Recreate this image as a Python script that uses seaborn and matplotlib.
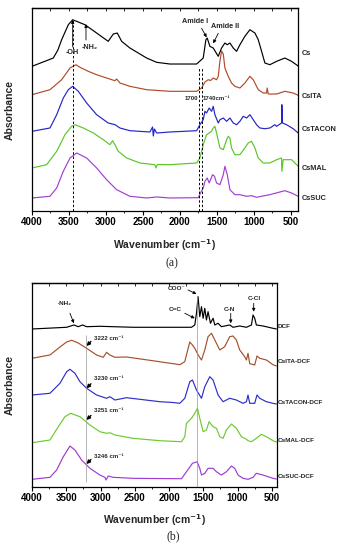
import matplotlib
matplotlib.use("Agg")
import matplotlib.pyplot as plt
import seaborn as sns
import pandas as pd
from matplotlib.ticker import MultipleLocator

# ---------------- panel (a): chitosan films (stacked, arbitrary units) ----------------
cs_wn = [4000, 3712, 3650, 3599, 3509, 3450, 3284, 3126, 2969, 2901, 2847, 2788, 2676, 2450,
         2315, 2135, 1774, 1685, 1649, 1631, 1595, 1550, 1482, 1437, 1392, 1360, 1324, 1279,
         1234, 1189, 1122, 1054, 986, 941, 896, 851, 784, 693, 581, 491, 401]
cs_abs = [144.7, 153, 161, 171.3, 186.3, 191.3, 186.3, 178, 169.7, 177, 178, 169.7, 163, 153,
          148.7, 147, 147, 153, 171.3, 173, 164.7, 163, 154.7, 163, 168, 166.3, 168, 163,
          159.7, 166.3, 174.7, 181.3, 178, 171.3, 159.7, 148, 146.3, 149.7, 153, 149.7, 145]

ita_wn = [4000, 3757, 3599, 3486, 3405, 3351, 3239, 3126, 2991, 2878, 2856, 2811, 2676, 2450,
          2135, 1774, 1707, 1662, 1617, 1586, 1550, 1505, 1482, 1459, 1437, 1414, 1392, 1347,
          1302, 1257, 1189, 1122, 1054, 1009, 941, 874, 829, 820, 806, 693, 581, 469, 401]
ita_abs = [116.3, 121.3, 131.3, 143, 146.3, 143.7, 139.7, 136.3, 133, 130.3, 132, 128, 124.7, 121.3,
           119.7, 119.7, 123, 129, 131.3, 130.5, 133, 131.3, 134.7, 150, 160, 157, 143, 134.7,
           128, 124.7, 123, 128, 134.7, 131.3, 121.3, 118, 118, 123, 117, 117, 119.7, 118, 115.7]

tac_wn = [4000, 3757, 3666, 3577, 3509, 3450, 3374, 3261, 3126, 2969, 2878, 2811, 2676, 2405,
          2370, 2360, 2345, 2315, 2135, 1774, 1730, 1685, 1662, 1640, 1604, 1572, 1550, 1527,
          1482, 1459, 1414, 1369, 1324, 1279, 1234, 1189, 1144, 1099, 1054, 1009, 964, 919,
          851, 784, 716, 693, 626, 622, 613, 559, 469, 401]
tac_abs = [79.7, 83, 96.3, 113, 121.3, 124.7, 119.7, 108, 96.3, 88, 86.3, 83, 80.3, 79,
           84, 75, 82, 78, 79, 80.3, 86.3, 91.3, 99.7, 98, 103, 99.7, 104.7, 96.3,
           88, 91.3, 93, 89.7, 93, 88, 86.3, 89.7, 94.7, 93, 96.3, 91.3, 86.3, 83,
           82.3, 83, 86.3, 84.7, 88, 106.3, 88, 86.3, 82.3, 78]

mal_wn = [4000, 3802, 3666, 3554, 3464, 3419, 3306, 3171, 3036, 2946, 2910, 2878, 2834, 2720,
          2541, 2338, 2325, 2305, 2135, 1774, 1730, 1685, 1640, 1572, 1550, 1527, 1505, 1459,
          1414, 1369, 1347, 1324, 1302, 1257, 1189, 1122, 1077, 1032, 986, 941, 874, 784,
          693, 626, 622, 604, 491, 401]
mal_abs = [43, 46.3, 59.7, 76.3, 84.7, 86.3, 83, 78, 71.3, 66.3, 70.3, 66.3, 59.7, 53,
           48, 46.3, 43, 46.5, 46.3, 48, 53, 66.3, 76.3, 79.7, 83, 84.7, 78, 63,
           61.3, 71.3, 74.7, 73, 63, 56.3, 56.3, 63, 68, 69.7, 63, 53, 48, 48,
           51.3, 53, 39.7, 51.3, 51.3, 44.7]

suc_wn = [4000, 3757, 3666, 3577, 3486, 3396, 3261, 3126, 2991, 2856, 2676, 2450, 2315, 2135,
          1753, 1721, 1685, 1662, 1631, 1604, 1559, 1532, 1505, 1459, 1414, 1392, 1360, 1324,
          1257, 1189, 1099, 1032, 964, 896, 784, 581, 491, 401]
suc_abs = [13, 14.7, 23, 39.7, 53, 58, 53, 43, 31.3, 21.3, 14.7, 13, 14, 13,
           13.3, 18, 23, 29.7, 33, 28, 36.3, 34.7, 28, 26.3, 36.3, 44.7, 36.3, 21.3,
           16.3, 16.3, 14.7, 15.3, 13.7, 14.7, 16.3, 20.3, 18, 14.7]

# ---------------- panel (b): films loaded with DCF ----------------
dcf_wn = [4000, 3494, 3388, 3325, 3261, 3203, 3009, 2523, 1672, 1624, 1599, 1576, 1551, 1526,
          1502, 1478, 1454, 1430, 1395, 1357, 1332, 1284, 1235, 1114, 1066, 968, 870, 797,
          774, 749, 725, 628, 483, 433]
dcf_abs = [158, 159.7, 162, 160.3, 162, 160.3, 160.7, 159.7, 159.7, 162, 173.7, 190.3, 170.3, 180.3,
           168.7, 178.7, 167, 175.3, 163.7, 168.7, 162, 163.7, 160.3, 162, 159.7, 161, 159.7, 162,
           172, 168.7, 162, 161, 158.7, 158]

itad_wn = [4000, 3738, 3592, 3494, 3421, 3325, 3203, 3057, 2960, 2911, 2863, 2790, 2620, 2280,
           1940, 1843, 1770, 1697, 1658, 1624, 1575, 1526, 1478, 1430, 1380, 1332, 1259, 1187,
           1114, 1066, 1017, 968, 895, 870, 847, 822, 749, 716, 676, 579, 483, 433]
itad_abs = [128.7, 132, 140, 145, 146.7, 144, 138.7, 132, 129.7, 134.7, 132, 129.7, 130, 126.7,
            123.3, 122.3, 125.3, 145, 142, 138.7, 132, 127, 137, 150.3, 153.7, 147, 137, 140.3,
            150.3, 151, 147, 137, 130.3, 127, 133.7, 123.3, 122, 131, 128.7, 127, 122.3, 121]

tacd_wn = [4000, 3738, 3592, 3494, 3446, 3373, 3300, 3203, 3057, 2911, 2863, 2790, 2620, 2426,
           2134, 1940, 1843, 1770, 1697, 1658, 1599, 1526, 1478, 1405, 1357, 1284, 1211, 1114,
           1017, 920, 870, 847, 822, 749, 716, 676, 579, 483, 433]
tacd_abs = [92, 93.7, 103.7, 115.3, 117.7, 113.7, 105.3, 98.7, 92, 88.7, 90.3, 87, 89.3, 87.7,
            85.3, 84.5, 83.7, 88.7, 105.3, 107, 97, 88.7, 100.3, 110.3, 107, 92, 85.3, 88.7,
            87, 83.7, 85.3, 92, 83.7, 83.7, 92, 88.7, 85.3, 83.7, 83]

mald_wn = [4000, 3738, 3616, 3519, 3436, 3300, 3154, 3009, 2911, 2863, 2790, 2523, 2134, 1818,
           1770, 1745, 1672, 1624, 1585, 1551, 1502, 1454, 1415, 1357, 1308, 1259, 1211, 1162,
           1089, 1016, 943, 870, 846, 797, 725, 652, 579, 483, 433]
mald_abs = [44.3, 47, 60.3, 70.3, 73.7, 70.3, 62, 55.3, 53.7, 54.3, 52, 48.7, 46.3, 45.3,
            50.3, 63.7, 68.7, 73.7, 78.7, 68.7, 55.3, 57, 65.3, 60.3, 58.7, 50.3, 48.7, 57,
            63, 58.7, 50.3, 47.7, 46.3, 45.3, 48.7, 52.7, 50.3, 46.3, 45]

sucd_wn = [4000, 3738, 3640, 3543, 3446, 3373, 3276, 3154, 3009, 2936, 2920, 2887, 2815, 2523,
           1818, 1745, 1658, 1590, 1551, 1526, 1478, 1430, 1357, 1308, 1235, 1162, 1089, 1041,
           992, 920, 846, 774, 725, 628, 483, 433]
sucd_abs = [7.7, 9.7, 17, 30.3, 41, 37, 27, 18.7, 12, 9.7, 7, 11, 9.7, 8.7,
            8.3, 15.3, 23.7, 25.3, 18.7, 12, 13.7, 18.7, 18.7, 15.3, 12, 15.3, 21, 18.7,
            12, 8.7, 7.7, 9.7, 13.7, 12, 8.7, 8]

names_a = ["Cs", "CsITA", "CsTACON", "CsMAL", "CsSUC"]
label_y_a = [158, 115, 81, 42.7, 12.7]
names_b = ["DCF", "CsITA-DCF", "CsTACON-DCF", "CsMAL-DCF", "CsSUC-DCF"]
label_y_b = [160.3, 125.3, 84.3, 47, 11]

colors_a = ["#000000", "#B04A2A", "#2424C8", "#5BC62A", "#A23FD0"]
colors_b = ["#000000", "#A6502C", "#2E2ECC", "#6CCB2F", "#9E3BD3"]

sns.set_style("ticks")
plt.rcParams["font.family"] = ["Liberation Sans", "DejaVu Sans"]
plt.rcParams["font.weight"] = "bold"
plt.rcParams["axes.linewidth"] = 0.9
plt.rcParams["axes.edgecolor"] = "black"


def stack_frame(names, series):
    frames = []
    for name, (wn, ab) in zip(names, series):
        frames.append(pd.DataFrame({"wavenumber": wn, "absorbance": ab, "sample": name}))
    return pd.concat(frames, ignore_index=True)


def style_axis(ax, xmax, ytop):
    ax.set_xlim(4000, xmax)
    ax.set_ylim(0, ytop)
    ax.set_yticks([])
    ax.xaxis.set_major_locator(MultipleLocator(500))
    ax.xaxis.set_minor_locator(MultipleLocator(250))
    ax.tick_params(axis="x", which="major", direction="out", length=2.6, width=0.8,
                   pad=2, labelsize=7, colors="black")
    ax.tick_params(axis="x", which="minor", direction="out", length=1.6, width=0.7)
    top = ax.secondary_xaxis("top")
    top.xaxis.set_major_locator(MultipleLocator(250))
    top.tick_params(which="both", direction="in", length=2.2, width=0.7, labeltop=False)
    for side in ["top", "right", "left", "bottom"]:
        ax.spines[side].set_visible(True)
    ax.set_xlabel("")
    ax.set_ylabel("")


fig = plt.figure(figsize=(3.44, 5.5), dpi=100)
ax_a = fig.add_axes([0.093, 0.6164, 0.773, 0.369])
ax_b = fig.add_axes([0.093, 0.1145, 0.711, 0.371])

df_a = stack_frame(names_a, [(cs_wn, cs_abs), (ita_wn, ita_abs), (tac_wn, tac_abs),
                             (mal_wn, mal_abs), (suc_wn, suc_abs)])
df_b = stack_frame(names_b, [(dcf_wn, dcf_abs), (itad_wn, itad_abs), (tacd_wn, tacd_abs),
                             (mald_wn, mald_abs), (sucd_wn, sucd_abs)])

sns.lineplot(data=df_a, x="wavenumber", y="absorbance", hue="sample",
             palette=dict(zip(names_a, colors_a)), estimator=None, lw=0.85,
             legend=False, ax=ax_a)
sns.lineplot(data=df_b, x="wavenumber", y="absorbance", hue="sample",
             palette=dict(zip(names_b, colors_b)), estimator=None, lw=0.85,
             legend=False, ax=ax_b)

style_axis(ax_a, 405, 203)
style_axis(ax_b, 430, 204)

# sample names at the right edge
for name, y in zip(names_a, label_y_a):
    ax_a.text(1.014, y, name, transform=ax_a.get_yaxis_transform(), fontsize=5.3,
              ha="left", va="center")
for name, y in zip(names_b, label_y_b):
    ax_b.text(1.006, y, name, transform=ax_b.get_yaxis_transform(), fontsize=4.6,
              ha="left", va="center")

for ax, xl_y, yl_x in [(ax_a, -0.127, -0.064), (ax_b, -0.121, -0.069)]:
    ax.set_xlabel("Wavenumber (cm$^{\\mathbf{-1}}$)", fontsize=7.5, fontweight="bold")
    ax.set_ylabel("Absorbance", fontsize=7.5, fontweight="bold")
    ax.xaxis.set_label_coords(0.5, xl_y)
    ax.yaxis.set_label_coords(yl_x, 0.5)

# --- panel (a) guides and band labels ---
oh_band = 3450
ester_bands = [1740, 1700]
ax_a.vlines(oh_band, 0, 191, colors="black", linestyles=(0, (2.5, 2)), lw=0.7)
ax_a.vlines(ester_bands, 0, 143, colors="black", linestyles=(0, (2.5, 2)), lw=0.7)

small_arrow = dict(arrowstyle="-|>", lw=0.6, color="black", mutation_scale=4.5,
                   shrinkA=0, shrinkB=0)
ax_a.annotate("", xy=(oh_band, 191), xytext=(oh_band, 164), arrowprops=small_arrow)
ax_a.text(3459, 159, "-OH", fontsize=5.2, ha="center", va="center")
ax_a.annotate("", xy=(3270, 187), xytext=(3270, 171), arrowprops=small_arrow)
ax_a.text(3216, 164, "-NH₂", fontsize=5.2, ha="center", va="center")
ax_a.annotate("", xy=(1639, 173.7), xytext=(1707, 182.7), arrowprops=small_arrow)
ax_a.text(1797, 189.3, "Amide I", fontsize=5.2, ha="center", va="center")
ax_a.annotate("", xy=(1550, 167.7), xytext=(1482, 177.7), arrowprops=small_arrow)
ax_a.text(1392, 184.3, "Amide II", fontsize=5.2, ha="center", va="center")
ax_a.text(1748, 113, "1700", fontsize=4.4, ha="right", va="center")
ax_a.text(1690, 113, "1740cm⁻¹", fontsize=4.4, ha="left", va="center")

# --- panel (b) guides and band labels ---
nh_shift = 3213
coo_band = 1585
ax_b.vlines(nh_shift, 5, 152, colors="#999999", lw=0.5)
ax_b.vlines(coo_band, 0, 190, colors="#999999", lw=0.5)

ax_b.annotate("", xy=(3388, 163.7), xytext=(3446, 173.7), arrowprops=small_arrow)
ax_b.text(3519, 183.7, "-NH₂", fontsize=4.6, ha="center", va="center")
ax_b.annotate("", xy=(1599, 193), xytext=(1722, 197), arrowprops=small_arrow)
ax_b.text(1891, 198.7, "COO⁻", fontsize=4.6, ha="center", va="center")
ax_b.annotate("", xy=(1624, 168.7), xytext=(1770, 173.7), arrowprops=small_arrow)
ax_b.text(1915, 177, "C=C", fontsize=4.6, ha="center", va="center")
ax_b.annotate("", xy=(1099, 163.7), xytext=(1099, 173.7), arrowprops=small_arrow)
ax_b.text(1114, 177, "C-N", fontsize=4.6, ha="center", va="center")
ax_b.annotate("", xy=(764, 175.3), xytext=(764, 183.7), arrowprops=small_arrow)
ax_b.text(749, 188.7, "C-Cl", fontsize=4.6, ha="center", va="center")

shift_labels = ["3222 cm⁻¹", "3230 cm⁻¹", "3251 cm⁻¹", "3246 cm⁻¹"]
shift_text_y = [148.7, 108.7, 77, 30.3]
shift_tip_y = [141, 98.7, 67, 23]
bold_arrow = dict(arrowstyle="-|>", lw=1.0, color="black", mutation_scale=5,
                  shrinkA=0, shrinkB=0)
for lab, ty, tip in zip(shift_labels, shift_text_y, shift_tip_y):
    ax_b.annotate("", xy=(3205, tip), xytext=(3140, tip + 4.5), arrowprops=bold_arrow)
    ax_b.text(3100, ty, lab, fontsize=4.4, ha="left", va="center")

fig.text(171.7 / 344, 1 - 263.3 / 550, "(a)", fontsize=8.5, fontweight="normal",
         family="Liberation Serif", ha="center", va="center")
fig.text(173.3 / 344, 1 - 536.7 / 550, "(b)", fontsize=8.5, fontweight="normal",
         family="Liberation Serif", ha="center", va="center")

fig.savefig("out.png", dpi=100)
